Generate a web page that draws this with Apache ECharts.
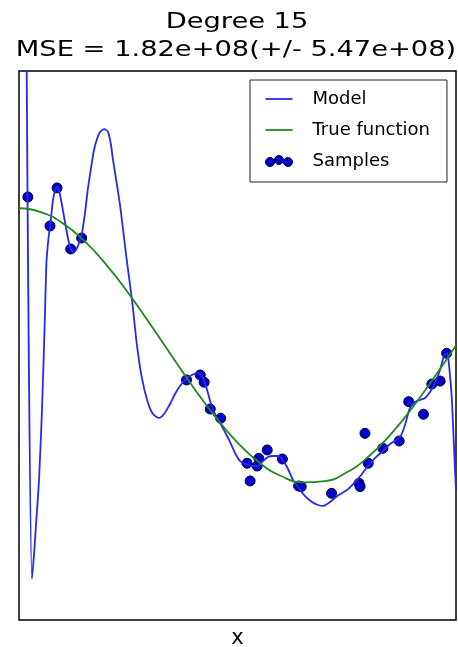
<!DOCTYPE html>
<html>
<head>
<meta charset="utf-8">
<script src="https://cdn.jsdelivr.net/npm/echarts@6/dist/echarts.min.js"></script>
<style>html,body{margin:0;padding:0;background:#fff}#c{width:458px;height:647px}</style>
</head>
<body>
<div id="c"></div>
<script>
// Model (degree 15 polynomial)
var modelX = [0, 0.0165, 0.0297, 0.0343, 0.0389, 0.0458, 0.0526, 0.0584, 0.0629, 0.0675, 0.0716, 0.0778, 0.0835, 0.0876, 0.0915, 0.0984, 0.1076, 0.1144, 0.1197, 0.1259, 0.1327, 0.1396, 0.1442, 0.1510, 0.1579, 0.1648, 0.1716, 0.1785, 0.1854, 0.1952, 0.2037, 0.2105, 0.2151, 0.2243, 0.2327, 0.2465, 0.2586, 0.2693, 0.2808, 0.2952, 0.3066, 0.3204, 0.3318, 0.3455, 0.3570, 0.3684, 0.3822, 0.3959, 0.4096, 0.4188, 0.4279, 0.4394, 0.4508, 0.4600, 0.4714, 0.4828, 0.4943, 0.5057, 0.5195, 0.5332, 0.5446, 0.5584, 0.5698, 0.5812, 0.5927, 0.6018, 0.6133, 0.6270, 0.6384, 0.6545, 0.6705, 0.6842, 0.6957, 0.7117, 0.7254, 0.7391, 0.7529, 0.7689, 0.7849, 0.7986, 0.8146, 0.8330, 0.8490, 0.8719, 0.8833, 0.8947, 0.9062, 0.9176, 0.9291, 0.9405, 0.9519, 0.9634, 0.9725, 0.9794, 0.9840, 0.9902, 0.9938, 0.9977, 1.0];
var modelY = [15, 2.6, -1.701, -1.526, -1.308, -0.980, -0.470, 0.113, 0.608, 0.783, 0.878, 1.060, 1.140, 1.155, 1.133, 1.024, 0.856, 0.747, 0.696, 0.681, 0.710, 0.769, 0.820, 0.965, 1.148, 1.293, 1.424, 1.505, 1.556, 1.577, 1.556, 1.461, 1.352, 1.169, 0.987, 0.623, 0.332, 0.018, -0.230, -0.419, -0.499, -0.528, -0.499, -0.426, -0.353, -0.295, -0.244, -0.215, -0.200, -0.222, -0.295, -0.426, -0.514, -0.565, -0.630, -0.703, -0.783, -0.842, -0.863, -0.878, -0.878, -0.842, -0.812, -0.805, -0.805, -0.827, -0.885, -0.980, -1.031, -1.097, -1.140, -1.162, -1.169, -1.140, -1.104, -1.075, -1.046, -0.995, -0.936, -0.878, -0.820, -0.769, -0.718, -0.667, -0.579, -0.455, -0.412, -0.397, -0.383, -0.339, -0.273, -0.179, -0.077, -0.055, -0.142, -0.375, -0.616, -0.907, -1.053];
// True function
var trueX = [0, 0.05, 0.10, 0.15, 0.20, 0.25, 0.30, 0.35, 0.40, 0.45, 0.50, 0.55, 0.60, 0.65, 0.70, 0.75, 0.80, 0.85, 0.90, 0.95, 1.00];
var trueY = [1.0, 0.972, 0.891, 0.760, 0.588, 0.383, 0.156, -0.078, -0.309, -0.522, -0.707, -0.853, -0.951, -0.997, -0.988, -0.924, -0.809, -0.649, -0.454, -0.233, 0.0];
// Samples
var sampleX = [0.0202, 0.0710, 0.0871, 0.1183, 0.1434, 0.3834, 0.4147, 0.4237, 0.4376, 0.4615, 0.5218, 0.5289, 0.5449, 0.5488, 0.5680, 0.6028, 0.6399, 0.6459, 0.7152, 0.7782, 0.7805, 0.7917, 0.7992, 0.8326, 0.8700, 0.8918, 0.9256, 0.9447, 0.9637, 0.9786];
var sampleY = [1.082, 0.871, 1.148, 0.703, 0.783, -0.251, -0.215, -0.268, -0.463, -0.530, -0.858, -0.987, -0.878, -0.822, -0.761, -0.827, -1.024, -1.028, -1.077, -1.004, -1.028, -0.640, -0.858, -0.749, -0.696, -0.409, -0.501, -0.281, -0.259, -0.057];

var titleLine1 = 'Degree 15';
var titleLine2 = 'MSE = 1.82e+08(+/- 5.47e+08)';
var seriesNames = ['Model', 'True function', 'Samples'];

function zip(a, b) { return a.map(function (v, i) { return [v, b[i]]; }); }

var font = 'DejaVu Sans';
var blue = '#2a2ae6', green = '#208a20', dotFill = '#0000cc', dotEdge = '#000040';
var chart = echarts.init(document.getElementById('c'), null, { renderer: 'canvas' });
var dotsIcon = 'path://M0,6.5a4.5,4.5 0 1,0 9,0a4.5,4.5 0 1,0 -9,0M9,4.5a4.5,4.5 0 1,0 9,0a4.5,4.5 0 1,0 -9,0M18,6.5a4.5,4.5 0 1,0 9,0a4.5,4.5 0 1,0 -9,0';
var lineIcon = 'path://M0,0H27V1.8H0Z';

chart.setOption({
  animation: false,
  backgroundColor: '#fff',
  grid: { left: 19, right: 2, top: 71, bottom: 27, show: true, borderColor: '#000', borderWidth: 1.5, backgroundColor: 'transparent', containLabel: false, outerBoundsMode: 'none' },
  xAxis: {
    type: 'value', min: 0, max: 1,
    name: 'x', nameLocation: 'middle', nameGap: 8,
    nameTextStyle: { fontFamily: font, fontSize: 21, color: '#000', verticalAlign: 'top' },
    axisLine: { show: false }, axisTick: { show: false }, axisLabel: { show: false }, splitLine: { show: false }
  },
  yAxis: {
    type: 'value', min: -2, max: 2,
    axisLine: { show: false }, axisTick: { show: false }, axisLabel: { show: false }, splitLine: { show: false }
  },
  legend: {
    orient: 'vertical', left: 250, top: 80,
    padding: [10, 17, 12, 15],
    itemWidth: 27, itemHeight: 14, itemGap: 13,
    borderColor: '#222', borderWidth: 1, backgroundColor: '#fff',
    textStyle: { fontFamily: font, fontSize: 18, color: '#000', padding: [0, 0, 0, 15] },
    data: [
      { name: seriesNames[0], icon: lineIcon, itemStyle: { color: blue, borderWidth: 0 } },
      { name: seriesNames[1], icon: lineIcon, itemStyle: { color: green, borderWidth: 0 } },
      { name: seriesNames[2], icon: dotsIcon, itemStyle: { color: dotFill, borderColor: dotEdge, borderWidth: 1 } }
    ]
  },
  graphic: [
    { type: 'text', x: 237, y: 22, scaleX: 1.24, style: { text: titleLine1, x: 0, y: 0, textAlign: 'center', textVerticalAlign: 'middle', font: '22px "DejaVu Sans"', fill: '#000' } },
    { type: 'text', x: 236, y: 50, scaleX: 1.24, style: { text: titleLine2, x: 0, y: 0, textAlign: 'center', textVerticalAlign: 'middle', font: '22px "DejaVu Sans"', fill: '#000' } }
  ],
  series: [
    {
      name: seriesNames[0], type: 'line', data: zip(modelX, modelY), showSymbol: false, symbol: 'none',
      clip: true, smooth: 0.25, lineStyle: { color: blue, width: 1.8 }, itemStyle: { color: blue }, z: 3
    },
    {
      name: seriesNames[1], type: 'line', data: zip(trueX, trueY), showSymbol: false, symbol: 'none',
      clip: true, smooth: true, lineStyle: { color: green, width: 1.8 }, itemStyle: { color: green }, z: 3
    },
    {
      name: seriesNames[2], type: 'scatter', data: zip(sampleX, sampleY), symbolSize: 10,
      itemStyle: { color: dotFill, borderColor: dotEdge, borderWidth: 1, opacity: 1 }, z: 1
    }
  ]
});
</script>
</body>
</html>
